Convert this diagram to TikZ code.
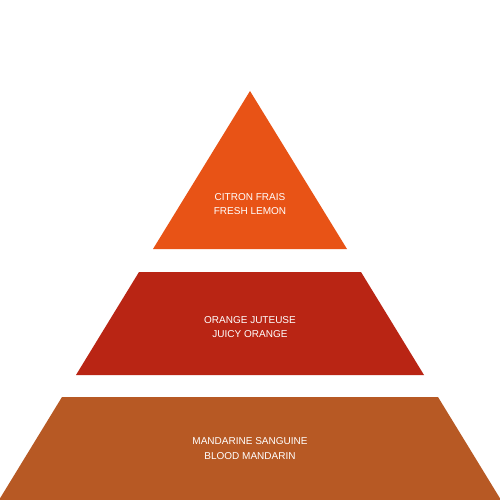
\documentclass[tikz,border=0pt]{standalone}
\usepackage{fontspec}
\setmainfont{Liberation Sans}
\definecolor{topc}{RGB}{232,83,22}
\definecolor{midc}{RGB}{185,37,20}
\definecolor{botc}{RGB}{183,89,36}
\begin{document}
\begin{tikzpicture}[x=1pt,y=-1pt,
  lbl/.style={text=white,align=center,font=\fontsize{10}{14.3}\selectfont,inner sep=0pt}]
\fill[white] (0,0) rectangle (500,500);
\useasboundingbox (0,0) rectangle (500,500);
% top triangle
\fill[topc] (250,91) -- (347,249) -- (153,249) -- cycle;
% middle trapezoid
\fill[midc] (139,272) -- (361,272) -- (424,375) -- (76,375) -- cycle;
% bottom trapezoid
\fill[botc] (62,397) -- (438,397) -- (501,500) -- (-1,500) -- cycle;
\node[lbl] (t) at (250,204) {CITRON FRAIS\\FRESH LEMON};
\node[lbl] (m) at (250,327) {ORANGE JUTEUSE\\JUICY ORANGE};
\node[lbl] (b) at (250,448.7) {MANDARINE SANGUINE\\BLOOD MANDARIN};
\end{tikzpicture}
\end{document}
